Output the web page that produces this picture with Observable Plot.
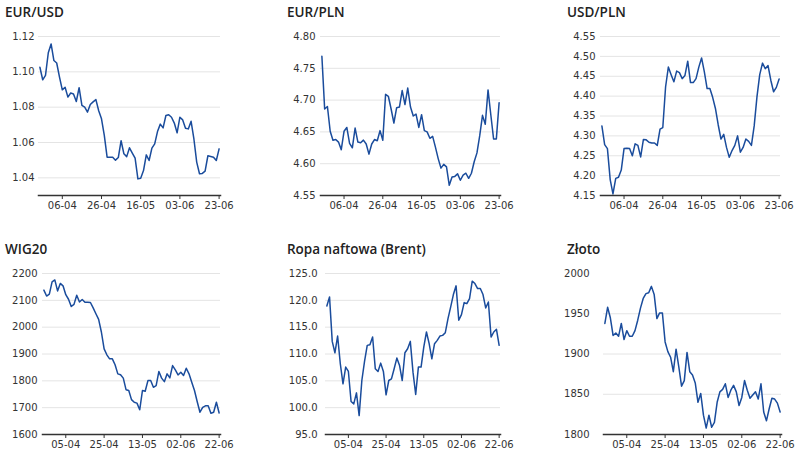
<!DOCTYPE html>
<html>
<head>
<meta charset="utf-8">
<script src="https://cdn.jsdelivr.net/npm/d3@7"></script>
<script src="https://cdn.jsdelivr.net/npm/@observablehq/plot@0.6"></script>
<style>
  html, body { margin: 0; padding: 0; background: #fff; }
  #root { position: relative; width: 800px; height: 458px; overflow: hidden; font-family: "DejaVu Sans", sans-serif; }
  .panel { position: absolute; }
  .title { position: absolute; font-family: "Open Sans", sans-serif; font-weight: 600; font-size: 13.5px; line-height: 1; color: #222; white-space: nowrap; }
  .panel svg { display: block; }
</style>
</head>
<body>
<div id="root"></div>
<script>
// ---- Data ----
const titles = ["EUR/USD", "EUR/PLN", "USD/PLN", "WIG20", "Ropa naftowa (Brent)", "Złoto"];

const topTickLabels = ["06-04", "26-04", "16-05", "03-06", "23-06"];
const bottomTickLabels = ["05-04", "25-04", "13-05", "02-06", "22-06"];
const topStart = "2022-03-25";
const bottomStart = "2022-03-24";

const eurusd = [1.1026,1.0955,1.098,1.1108,1.1158,1.1064,1.105,1.097,1.0898,1.0913,1.0857,1.088,1.0875,1.0832,1.091,1.081,1.080,1.0772,1.0815,1.083,1.0843,1.078,1.0734,1.064,1.0517,1.0517,1.0517,1.050,1.0515,1.061,1.0536,1.052,1.057,1.054,1.0511,1.0394,1.0398,1.0441,1.053,1.0498,1.0568,1.0592,1.0662,1.0704,1.0683,1.0753,1.0757,1.0743,1.071,1.0655,1.0743,1.0728,1.0681,1.0677,1.072,1.062,1.0489,1.0423,1.0425,1.0438,1.0525,1.0521,1.0517,1.0498,1.0564];
const eurpln = [4.769,4.686,4.690,4.651,4.637,4.638,4.634,4.622,4.651,4.657,4.632,4.625,4.656,4.634,4.633,4.637,4.631,4.615,4.631,4.638,4.636,4.652,4.637,4.709,4.706,4.686,4.664,4.688,4.689,4.715,4.693,4.719,4.689,4.675,4.678,4.657,4.677,4.652,4.650,4.640,4.643,4.626,4.608,4.593,4.599,4.595,4.566,4.579,4.580,4.584,4.574,4.582,4.585,4.577,4.585,4.603,4.617,4.644,4.676,4.662,4.716,4.677,4.639,4.639,4.696];
const usdpln = [4.325,4.278,4.268,4.190,4.154,4.193,4.196,4.214,4.268,4.269,4.268,4.250,4.280,4.276,4.247,4.291,4.290,4.284,4.282,4.282,4.276,4.317,4.321,4.423,4.473,4.454,4.436,4.463,4.459,4.444,4.452,4.488,4.434,4.434,4.444,4.473,4.496,4.461,4.419,4.419,4.397,4.369,4.328,4.292,4.304,4.271,4.246,4.263,4.276,4.300,4.259,4.271,4.292,4.286,4.276,4.325,4.398,4.454,4.483,4.469,4.477,4.440,4.411,4.422,4.443];
const wig20 = [2138,2116,2123,2169,2176,2135,2163,2154,2121,2104,2077,2085,2119,2094,2103,2093,2093,2092,2072,2050,2029,1982,1919,1897,1882,1882,1860,1826,1823,1810,1767,1764,1730,1720,1717,1692,1764,1761,1801,1801,1776,1782,1835,1810,1797,1826,1811,1857,1841,1822,1832,1820,1847,1826,1795,1764,1722,1683,1701,1707,1707,1679,1683,1720,1680];
const brent = [118.96,120.64,112.35,110.23,113.35,108.18,104.44,107.56,106.75,101.14,100.70,102.76,98.52,105.06,108.61,111.61,111.73,113.16,107.24,106.75,108.30,106.75,102.39,105.06,105.37,107.24,109.24,107.87,105.06,110.23,110.98,112.35,106.62,102.45,107.56,107.56,111.29,114.10,111.92,109.11,111.92,112.54,113.35,113.47,113.97,116.59,118.77,121.08,122.70,116.28,117.34,119.58,119.39,120.33,123.57,123.13,122.20,122.20,121.08,118.58,119.70,113.16,114.10,114.60,111.61];
const zloto = [1938,1958,1945,1923,1926,1922,1938,1918,1929,1922,1922,1929,1942,1957,1969,1975,1976,1984,1974,1944,1951,1951,1915,1903,1896,1878,1906,1884,1860,1867,1902,1878,1874,1864,1840,1851,1824,1808,1824,1809,1815,1840,1853,1856,1863,1846,1855,1861,1853,1836,1846,1867,1855,1845,1849,1853,1844,1863,1828,1817,1832,1845,1844,1839,1828];

const yTicksList = [
  [1.04, 1.06, 1.08, 1.10, 1.12],
  [4.55, 4.60, 4.65, 4.70, 4.75, 4.80],
  [4.15, 4.20, 4.25, 4.30, 4.35, 4.40, 4.45, 4.50, 4.55],
  [1600, 1700, 1800, 1900, 2000, 2100, 2200],
  [95, 100, 105, 110, 115, 120, 125],
  [1800, 1850, 1900, 1950, 2000]
];
const yDomains = [[1.03, 1.12], [4.55, 4.80], [4.15, 4.55], [1600, 2200], [95, 125], [1800, 2000]];
const yDecimals = [2, 2, 2, 0, 1, 0];

// ---- Helpers ----
function weekdays(start, n) {
  const out = [];
  const d = new Date(start + "T00:00:00Z");
  while (out.length < n) {
    const w = d.getUTCDay();
    if (w !== 0 && w !== 6) out.push(new Date(d));
    d.setUTCDate(d.getUTCDate() + 1);
  }
  return out;
}
const fmtDate = d => String(d.getUTCDate()).padStart(2, "0") + "-" + String(d.getUTCMonth() + 1).padStart(2, "0");

const series = [eurusd, eurpln, usdpln, wig20, brent, zloto];

// Layout (pixel geometry of each small multiple)
const layout = [
  {left: 0,   top: 26,  titleX: 5,   titleY: 6.3,   ml: 38, plotW: 182, pad: 4},
  {left: 282, top: 26,  titleX: 287, titleY: 6.3,   ml: 38, plotW: 180, pad: 5},
  {left: 562, top: 26,  titleX: 567, titleY: 6.3,   ml: 38, plotW: 180, pad: 5},
  {left: 0,   top: 263, titleX: 5,   titleY: 243,   ml: 42, plotW: 178, pad: 5},
  {left: 282, top: 263, titleX: 287, titleY: 243,   ml: 43, plotW: 175, pad: 8},
  {left: 562, top: 263, titleX: 567, titleY: 243,   ml: 41, plotW: 178, pad: 14}
];

const root = document.getElementById("root");
const LINE = "#1a4c9c";

series.forEach((vals, k) => {
  const L = layout[k];
  const isTop = k < 3;
  const dates = weekdays(isTop ? topStart : bottomStart, vals.length);
  const tickLabels = isTop ? topTickLabels : bottomTickLabels;
  const tickIdx = dates.map((d, i) => tickLabels.includes(fmtDate(d)) ? i : -1).filter(i => i >= 0);
  const data = vals.map((v, i) => ({i, v}));
  const plotH = isTop ? 159 : 161;
  const mt = 10, mb = 24, mr = 16;
  const gridTicks = k === 5 ? yTicksList[k].filter(t => t < 2000) : yTicksList[k];

  const chart = Plot.plot({
    width: L.ml + L.plotW + mr,
    height: mt + plotH + mb,
    marginLeft: L.ml,
    marginRight: mr,
    marginTop: mt,
    marginBottom: mb,
    style: {fontFamily: "DejaVu Sans, sans-serif", fontSize: "10px", color: "#333", background: "transparent"},
    x: {domain: [-0.5, vals.length - 0.5]},
    y: {domain: yDomains[k]},
    marks: [
      Plot.gridY(gridTicks, {stroke: "#e4e4e4", strokeOpacity: 1, strokeWidth: 1}),
      Plot.axisY(yTicksList[k], {tickSize: 0, tickPadding: L.pad, tickFormat: d => d.toFixed(yDecimals[k]), fill: "#333", label: null}),
      Plot.axisX(tickIdx, {tickSize: 4, tickPadding: 2, tickFormat: i => fmtDate(dates[i]), fill: "#333", stroke: "#333", label: null}),
      Plot.line(data, {x: "i", y: "v", stroke: LINE, strokeWidth: 1.5, curve: "linear"}),
      Plot.frame({anchor: "bottom", stroke: "#333", strokeWidth: 1.5})
    ]
  });

  const panel = document.createElement("div");
  panel.className = "panel";
  panel.style.left = L.left + "px";
  panel.style.top = (L.top) + "px";
  panel.appendChild(chart);
  root.appendChild(panel);

  const t = document.createElement("div");
  t.className = "title";
  t.style.left = L.titleX + "px";
  t.style.top = L.titleY + "px";
  t.textContent = titles[k];
  root.appendChild(t);
});
</script>
</body>
</html>
